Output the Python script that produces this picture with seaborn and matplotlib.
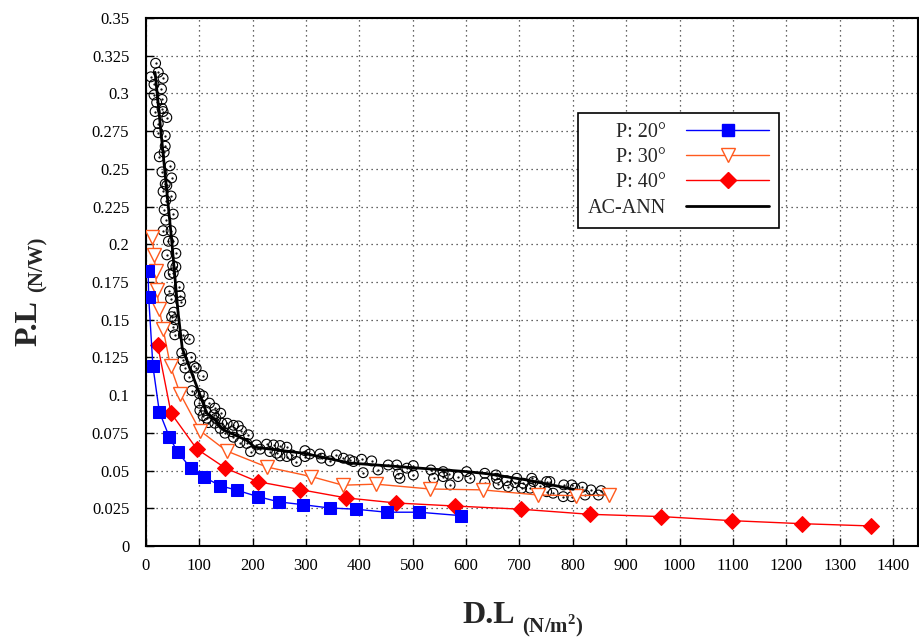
import numpy as np
import matplotlib
matplotlib.use('Agg')
import matplotlib.pyplot as plt
import seaborn as sns
from matplotlib.lines import Line2D
from matplotlib.ticker import FuncFormatter

# P: 20 deg
p20_x = [4, 5, 13, 25, 44, 60, 84, 109, 139, 171, 210, 250, 294, 344, 393, 451, 512, 591]
p20_y = [0.182, 0.165, 0.119, 0.089, 0.072, 0.062, 0.0516, 0.0456, 0.040, 0.0369, 0.0327,
         0.0292, 0.0274, 0.0252, 0.0244, 0.0224, 0.0224, 0.0201]

# P: 30 deg
p30_x = [12, 15, 18, 20, 25, 32, 46, 64, 101, 151, 226, 310, 369, 431, 532, 631, 735, 806, 868]
p30_y = [0.205, 0.193, 0.182, 0.170, 0.157, 0.144, 0.119, 0.101, 0.0765, 0.063, 0.0524,
         0.046, 0.0403, 0.041, 0.0378, 0.0372, 0.0338, 0.0334, 0.0338]

# P: 40 deg
p40_x = [22, 47, 95, 149, 209, 289, 375, 469, 579, 702, 832, 966, 1098, 1229, 1358]
p40_y = [0.133, 0.088, 0.0644, 0.0516, 0.0427, 0.0374, 0.0319, 0.0285, 0.0265, 0.0244,
         0.021, 0.0195, 0.0168, 0.0148, 0.0133]

# AC-ANN fitted line
ann_x = [17, 48, 60, 68, 95, 114, 126, 145, 189, 204, 295, 382, 513, 601, 638, 713, 801]
ann_y = [0.314, 0.203, 0.155, 0.131, 0.106, 0.088, 0.085, 0.077, 0.070, 0.0655, 0.0615,
         0.055, 0.0516, 0.0493, 0.048, 0.0438, 0.0376]

# measured points (open circles)
obs_x = [18, 23, 9, 32, 15, 29, 15, 30, 20, 30, 17, 32, 39, 23, 23, 36, 36, 34, 25, 45,
         30, 48, 36, 39, 32, 47, 37, 34, 51, 37, 32, 47, 42, 51,
         39, 56, 50, 56, 44, 51, 62, 44, 64, 46, 65, 52, 48, 54, 50, 54, 70, 81, 67, 84,
         69, 73, 90, 94, 81, 106, 86, 100, 107, 100, 119, 101, 112, 129, 140, 107, 127, 114, 131,
         117, 129, 142, 152, 164, 173, 139, 148, 161, 179, 192, 164, 176, 189, 207, 226, 239,
         251, 264, 196, 214, 232, 245, 251, 264, 273, 282, 298, 298, 307, 326, 329, 345, 357,
         370, 382, 389, 404, 407, 423, 435, 454, 470, 473, 476, 489, 501,
         501, 534, 539, 557, 557, 568, 570, 585, 601, 607, 635, 635, 656, 657, 660, 676, 679,
         695, 692, 707, 704, 723, 726, 720, 738, 751, 751, 757, 763, 783, 782, 798, 798, 804,
         818, 823, 834, 848, 853]
obs_y = [0.320, 0.314, 0.311, 0.310, 0.306, 0.303, 0.299, 0.296, 0.294, 0.290, 0.288, 0.288,
         0.284, 0.280, 0.274, 0.272, 0.265, 0.261, 0.258, 0.252, 0.248, 0.244, 0.240, 0.239,
         0.235, 0.232, 0.229, 0.223, 0.220, 0.216, 0.209, 0.209, 0.202, 0.202,
         0.193, 0.194, 0.186, 0.185, 0.180, 0.181, 0.172, 0.169, 0.166, 0.164, 0.162, 0.155,
         0.152, 0.150, 0.145, 0.140, 0.140, 0.137, 0.128, 0.125, 0.123, 0.118, 0.119, 0.118,
         0.112, 0.113, 0.103, 0.101, 0.0995, 0.0947, 0.0947, 0.090, 0.0898, 0.0914, 0.088,
         0.0863, 0.087, 0.0847, 0.0847,
         0.0818, 0.0814, 0.0814, 0.0814, 0.080, 0.0796, 0.078, 0.0748, 0.0758, 0.0765, 0.0737,
         0.0721, 0.0685, 0.068, 0.067, 0.0675, 0.067, 0.0666, 0.0655, 0.0626, 0.0642, 0.0626,
         0.0615, 0.0597, 0.0593, 0.0604, 0.056, 0.0632, 0.0593, 0.061, 0.061, 0.0582, 0.0564,
         0.0604, 0.0582, 0.0571, 0.056, 0.0575, 0.0486, 0.0564, 0.0504, 0.0537, 0.0537, 0.0478,
         0.0449, 0.0516, 0.0533,
         0.0471, 0.0504, 0.0449, 0.0493, 0.046, 0.0476, 0.0405, 0.046, 0.0493, 0.0449, 0.0482,
         0.042, 0.0471, 0.0449, 0.0411, 0.0433, 0.0393, 0.0449, 0.042, 0.0416, 0.0383, 0.0449,
         0.0427, 0.0383, 0.0398, 0.0427, 0.036, 0.0427, 0.035, 0.0405, 0.0327, 0.0405, 0.0327,
         0.0383, 0.039, 0.0338, 0.0372, 0.0338, 0.0367]

c20 = '#0000ff'
c30 = '#ff5a1e'
c40 = '#ff0000'

sns.set_style('ticks')
plt.rcParams['font.family'] = ['Liberation Serif', 'DejaVu Serif']
plt.rcParams['mathtext.fontset'] = 'custom'
plt.rcParams['mathtext.bf'] = 'Liberation Serif:bold'
plt.rcParams['mathtext.rm'] = 'Liberation Serif'

fig = plt.figure(figsize=(9.19, 6.4), dpi=100)
ax = fig.add_axes([146 / 919, 1 - 546 / 640, 772 / 919, 528 / 640])

# measured points: open circle with a dot in the middle
sns.scatterplot(x=obs_x, y=obs_y, marker='o', s=50, ax=ax, zorder=3)
circ = ax.collections[-1]
circ.set_facecolor('none')
circ.set_edgecolor('black')
circ.set_linewidth(0.8)
ax.scatter(obs_x, obs_y, marker='.', s=1.5, color='black', zorder=3)

sns.lineplot(x=p30_x, y=p30_y, sort=False, estimator=None, color=c30, lw=1, ax=ax,
             marker='v', markersize=10, markerfacecolor='white', markeredgecolor=c30,
             markeredgewidth=1, zorder=4)
sns.lineplot(x=p40_x, y=p40_y, sort=False, estimator=None, color=c40, lw=1, ax=ax,
             marker='D', markersize=8, markeredgecolor=c40, zorder=4)
sns.lineplot(x=p20_x, y=p20_y, sort=False, estimator=None, color=c20, lw=1, ax=ax,
             marker='s', markersize=9, markeredgecolor=c20, zorder=5)
sns.lineplot(x=ann_x, y=ann_y, sort=False, estimator=None, color='black', lw=2, ax=ax, zorder=6)

ax.set_xlim(0, 1447)
ax.set_ylim(0, 0.35)
ax.set_xticks(np.arange(0, 1401, 100))
ax.set_yticks(np.arange(0, 0.3501, 0.025))
ax.yaxis.set_major_formatter(FuncFormatter(lambda v, p: '%g' % round(v, 3)))
ax.tick_params(direction='in', length=6, width=1, labelsize=12, color='black', labelcolor='black')
ax.tick_params(axis='y', pad=12)
ax.tick_params(axis='x', pad=9)
ax.grid(True, linestyle=(0, (1, 3)), color='#333333', lw=0.9)
ax.set_axisbelow(True)
for sp in ax.spines.values():
    sp.set_color('black')
    sp.set_linewidth(1.5)
ax.set_xlabel('')
ax.set_ylabel('')

# legend, labels in front of the line sample (rows are right aligned)
handles = [
    Line2D([], [], color=c20, lw=1, marker='s', markersize=9),
    Line2D([], [], color=c30, lw=1, marker='v', markersize=10, markerfacecolor='white', markeredgecolor=c30),
    Line2D([], [], color=c40, lw=1, marker='D', markersize=8),
    Line2D([], [], color='black', lw=2),
]
labels = ['P: 20°', 'P: 30°', 'P: 40°', 'AC-ANN']
leg = ax.legend(handles, labels, loc='upper left', bbox_to_anchor=(0.5595, 0.820), markerfirst=False,
                fontsize=14.5, handlelength=4.1, labelspacing=0.3, fancybox=False, framealpha=1,
                edgecolor='black', borderpad=0.5, handletextpad=1.0, borderaxespad=0)
leg.get_frame().set_linewidth(1.2)
leg.set_zorder(10)

# axis titles with subscripts
fig.text(462 / 919, 1 - 623 / 640, 'D.L', fontsize=23, fontweight='bold', ha='left', va='baseline')
fig.text(522 / 919, 1 - 632 / 640, r'(N/m$^{\mathbf{2}}$)', fontsize=15, fontweight='bold',
         ha='left', va='baseline')
fig.text(36 / 919, 1 - 346 / 640, 'P.L', fontsize=23, fontweight='bold', rotation=90,
         rotation_mode='anchor', ha='left', va='baseline')
fig.text(43 / 919, 1 - 292 / 640, '(N/W)', fontsize=15, fontweight='bold', rotation=90,
         rotation_mode='anchor', ha='left', va='baseline')

fig.savefig('out.png', dpi=100)
